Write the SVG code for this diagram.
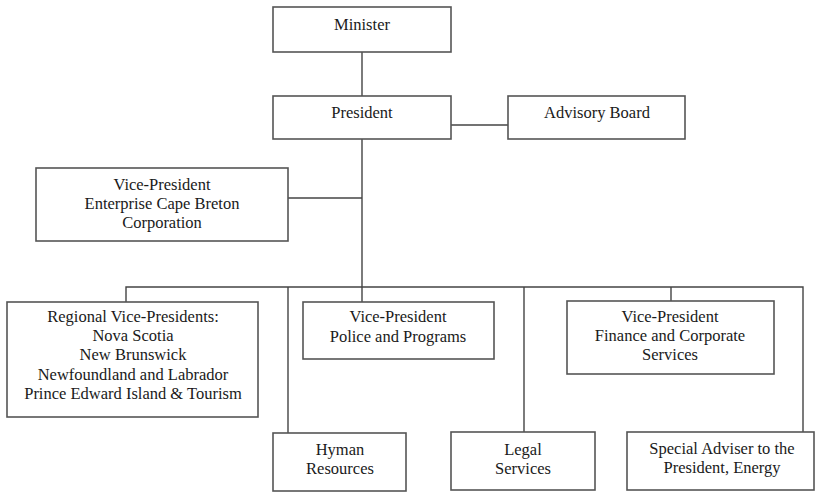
<svg xmlns="http://www.w3.org/2000/svg" width="815" height="492" viewBox="0 0 815 492">
<style>
.box{fill:#fff;stroke:#555;stroke-width:1.6}
.ln{fill:none;stroke:#444;stroke-width:1.4}
text{font-family:"Liberation Serif","Times New Roman",serif;font-size:16.5px;fill:#1a1a1a;text-anchor:middle}
</style>
<rect width="815" height="492" fill="#fff"/>
<g id="connectors">
<line class="ln" x1="362" y1="52" x2="362" y2="96"/>
<line class="ln" x1="451" y1="125" x2="508" y2="125"/>
<line class="ln" x1="362" y1="139" x2="362" y2="302"/>
<line class="ln" x1="288" y1="198" x2="362" y2="198"/>
<polyline class="ln" points="126,302 126,287 803,287 803,432"/>
<line class="ln" x1="288" y1="287" x2="288" y2="433"/>
<line class="ln" x1="524" y1="287" x2="524" y2="432"/>
<line class="ln" x1="671" y1="287" x2="671" y2="301"/>
</g>
<g id="minister">
<rect class="box" x="273" y="7" width="178" height="45"/>
<text x="362" y="30">Minister</text>
</g>
<g id="president">
<rect class="box" x="273" y="96" width="178" height="43"/>
<text x="362" y="118">President</text>
</g>
<g id="advisory-board">
<rect class="box" x="508" y="96" width="177" height="43"/>
<text x="597" y="118">Advisory Board</text>
</g>
<g id="vp-ecb">
<rect class="box" x="36" y="168" width="252" height="73"/>
<text x="162" y="190">Vice-President</text>
<text x="162" y="209">Enterprise Cape Breton</text>
<text x="162" y="228">Corporation</text>
</g>
<g id="regional-vps">
<rect class="box" x="7" y="302" width="251" height="115"/>
<text x="133" y="322">Regional Vice-Presidents:</text>
<text x="133" y="341">Nova Scotia</text>
<text x="133" y="360">New Brunswick</text>
<text x="133" y="380">Newfoundland and Labrador</text>
<text x="133" y="399">Prince Edward Island &amp; Tourism</text>
</g>
<g id="vp-police">
<rect class="box" x="303" y="302" width="191" height="57"/>
<text x="398" y="322">Vice-President</text>
<text x="398" y="342">Police and Programs</text>
</g>
<g id="vp-finance">
<rect class="box" x="567" y="301" width="207" height="73"/>
<text x="670" y="322">Vice-President</text>
<text x="670" y="341">Finance and Corporate</text>
<text x="670" y="360">Services</text>
</g>
<g id="human-resources">
<rect class="box" x="273" y="433" width="133" height="58"/>
<text x="340" y="455">Hyman</text>
<text x="340" y="474">Resources</text>
</g>
<g id="legal-services">
<rect class="box" x="451" y="432" width="144" height="58"/>
<text x="523" y="455">Legal</text>
<text x="523" y="474">Services</text>
</g>
<g id="special-adviser">
<rect class="box" x="627" y="432" width="187" height="58"/>
<text x="722" y="454">Special Adviser to the</text>
<text x="722" y="473">President, Energy</text>
</g>
</svg>
